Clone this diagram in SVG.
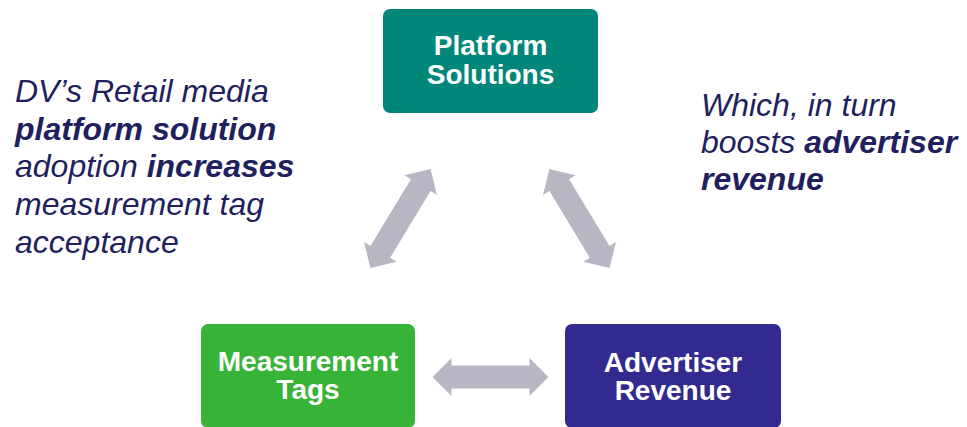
<svg xmlns="http://www.w3.org/2000/svg" width="967" height="427" viewBox="0 0 967 427">
<defs>
<style>
.box-label{font-family:"Liberation Sans",Arial,sans-serif;font-weight:bold;font-size:28px;fill:#ffffff;text-anchor:middle}
.note{font-family:"Liberation Sans",Arial,sans-serif;font-style:italic;font-size:32px;fill:#221F5E}
.b{font-weight:bold}
.arrow{fill:#B7B7C4}
</style>
<path id="dbl" d="M-58,0 L-39,-19 L-39,-11.5 L39,-11.5 L39,-19 L58,0 L39,19 L39,11.5 L-39,11.5 L-39,19 Z"/>
</defs>
<rect width="967" height="427" fill="#ffffff"/>
<g id="connectors" class="arrow">
<use href="#dbl" transform="translate(400.5,218.5) rotate(-58.8)"/>
<use href="#dbl" transform="translate(579.5,218.5) rotate(58.8)"/>
<use href="#dbl" transform="translate(490.5,377)"/>
</g>
<g id="platform-solutions">
<rect x="383" y="9" width="215" height="104" rx="7" fill="#00877A"/>
<text class="box-label" x="490.5" y="55">Platform</text>
<text class="box-label" x="490.5" y="84">Solutions</text>
</g>
<g id="measurement-tags">
<rect x="201" y="324" width="214" height="104" rx="7" fill="#37B337"/>
<text class="box-label" x="308" y="371">Measurement</text>
<text class="box-label" x="308" y="399">Tags</text>
</g>
<g id="advertiser-revenue">
<rect x="565" y="324" width="216" height="104" rx="7" fill="#322A8F"/>
<text class="box-label" x="673" y="372">Advertiser</text>
<text class="box-label" x="673" y="400">Revenue</text>
</g>
<g id="left-note">
<text class="note" x="15" y="102">DV’s Retail media</text>
<text class="note b" x="15" y="139.7">platform solution</text>
<text class="note" x="15" y="177.4">adoption <tspan class="b">increases</tspan></text>
<text class="note" x="15" y="215">measurement tag</text>
<text class="note" x="15" y="253">acceptance</text>
</g>
<g id="right-note">
<text class="note" x="701" y="116">Which, in turn</text>
<text class="note" x="701" y="153">boosts <tspan class="b">advertiser</tspan></text>
<text class="note b" x="701" y="190">revenue</text>
</g>
</svg>
